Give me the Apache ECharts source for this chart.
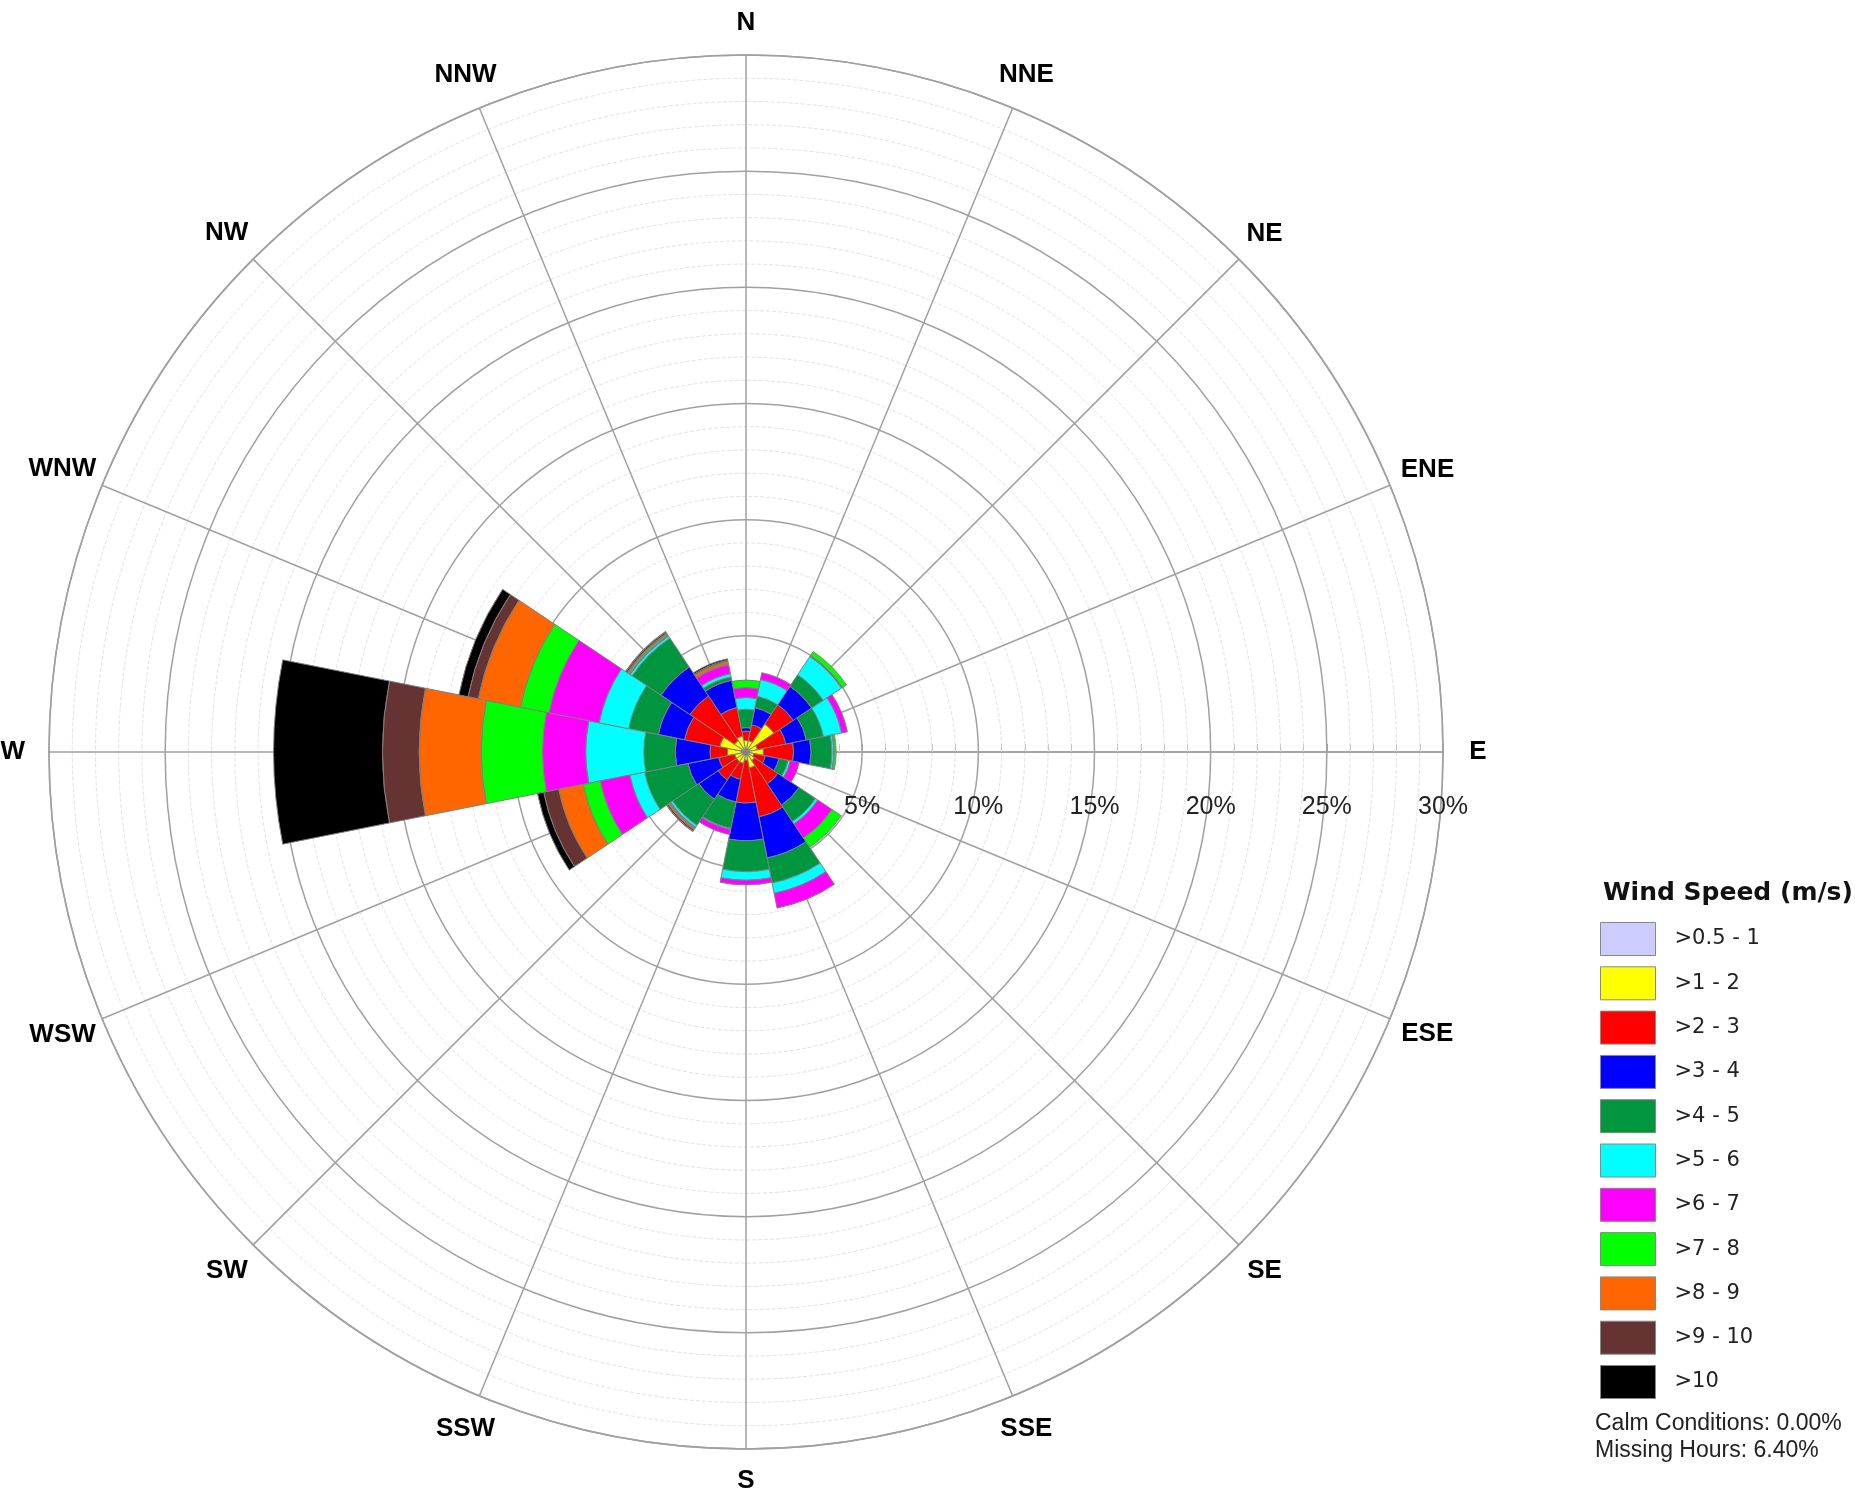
<!DOCTYPE html>
<html>
<head>
<meta charset="utf-8">
<script src="https://cdn.jsdelivr.net/npm/echarts@6/dist/echarts.min.js"></script>
<style>
html,body{margin:0;padding:0;background:#fff;}
#chart{width:1860px;height:1493px;}
</style>
</head>
<body>
<div id="chart"></div>
<script>
// ---- data ----
const directions = ['N','NNE','NE','ENE','E','ESE','SE','SSE','S','SSW','SW','WSW','W','WNW','NW','NNW'];
const speedBins = ['>0.5 - 1','>1 - 2','>2 - 3','>3 - 4','>4 - 5','>5 - 6','>6 - 7','>7 - 8','>8 - 9','>9 - 10','>10'];
const radiusTicks = [0, 5, 10, 15, 20, 25, 30];
// frequency (%) per direction for each wind-speed bin (order follows `directions`)
const bin05_1  = [0.15,0.15,0.15,0.15,0.15,0.15,0.15,0.15,0.15,0.15,0.15,0.15,0.20,0.20,0.15,0.15];
const bin1_2   = [0.35,0.35,1.30,0.35,0.60,0.20,0.30,0.55,0.20,0.35,0.35,0.35,0.60,0.95,0.45,0.55];
const bin2_3   = [0.40,0.70,1.00,1.25,1.30,0.50,1.20,2.15,1.85,0.70,0.95,0.70,0.75,1.55,2.30,1.25];
const bin3_4   = [0.15,0.75,0.95,0.90,0.75,0.60,1.10,1.80,1.62,1.00,1.00,1.35,1.50,1.15,1.50,1.20];
const bin4_5   = [0.79,0.50,0.60,0.75,0.90,0.40,0.85,1.10,1.33,1.15,1.35,1.90,1.35,1.30,1.50,0.15];
const bin5_6   = [0.51,0.73,0.95,0.80,0.08,0.10,0.12,0.45,0.37,0.05,0.10,0.65,2.50,1.30,0.10,0.14];
const bin6_7   = [0.43,0.30,0.05,0.25,0.02,0.38,0.73,0.65,0.20,0.22,0.03,1.30,1.86,2.20,0.04,0.39];
const bin7_8   = [0.32,0,0.20,0,0.08,0,0.48,0,0,0,0.03,0.75,2.64,1.25,0.06,0.03];
const bin8_9   = [0,0,0,0,0,0,0,0,0,0,0.07,1.07,2.67,1.85,0.05,0.12];
const bin9_10  = [0,0,0,0,0,0,0,0,0,0,0.07,0.66,1.58,0.45,0.07,0.05];
const bin10up  = [0,0,0,0,0,0,0,0,0,0,0.02,0.27,4.68,0.40,0.02,0.06];
const binValues = [bin05_1,bin1_2,bin2_3,bin3_4,bin4_5,bin5_6,bin6_7,bin7_8,bin8_9,bin9_10,bin10up];
const binColors = ['#ccccff','#ffff00','#ff0000','#0000ff','#009640','#00ffff','#ff00ff','#00ff00','#ff6600','#663333','#000000'];

// ---- chart ----
const chart = echarts.init(document.getElementById('chart'), null, {renderer:'canvas'});
const CX = 746, CY = 752, R = 697;
const gridColor = '#a0a0a0';
const dirFont = 'bold 26px "Liberation Sans"';
const RMAX = radiusTicks[radiusTicks.length - 1];

// label radius: fixed distance outside the ring, nudged out a little for wide labels near E/W
const measureCtx = document.createElement('canvas').getContext('2d');
measureCtx.font = dirFont;
function labelRadiusFor(name, i) {
  const th = i * 22.5 * Math.PI / 180;
  const w = measureCtx.measureText(name).width;
  const px = 729 + 0.35 * (w / 2) * Math.abs(Math.sin(th));
  return px / R * RMAX;
}

const series = speedBins.map((name, i) => ({
  name: name,
  type: 'bar',
  coordinateSystem: 'polar',
  polarIndex: 1,
  stack: 'wind',
  barCategoryGap: '0%',
  data: binValues[i].map(v => v > 0 ? v : '-'),
  itemStyle: { color: binColors[i], borderColor: '#808080', borderWidth: 1 },
  emphasis: { disabled: true },
  silent: true,
  animation: false
}));

// compass labels placed through the polar scales (angle measured CCW from east)
series.push({
  name: 'dirLabels',
  type: 'scatter',
  coordinateSystem: 'polar',
  polarIndex: 0,
  clip: false,
  silent: true,
  symbolSize: 0,
  itemStyle: { opacity: 1 },
  data: directions.map((d, i) => ({ name: d, value: [labelRadiusFor(d, i), ((90 - i * 22.5) + 360) % 360] })),
  label: { show: true, position: 'inside', formatter: p => p.name,
    fontFamily: 'Liberation Sans', fontWeight: 'bold', fontSize: 26, color: '#000' },
  animation: false
});

chart.setOption({
  backgroundColor: '#ffffff',
  animation: false,
  title: [
    { text: 'Wind Speed (m/s)', left: 1598, top: 876,
      textStyle: { fontFamily: 'DejaVu Sans', fontWeight: 'bold', fontSize: 25, color: '#111' } },
    { text: 'Calm Conditions: 0.00%\nMissing Hours: 6.40%', left: 1590, top: 1405,
      textStyle: { fontFamily: 'Liberation Sans', fontWeight: 'normal', fontSize: 23, lineHeight: 27, color: '#222' } }
  ],
  legend: {
    data: speedBins,
    orient: 'vertical',
    left: 1595, top: 917,
    itemWidth: 55, itemHeight: 33, itemGap: 10.3,
    icon: 'rect',
    selectedMode: false,
    itemStyle: { borderColor: '#888', borderWidth: 1 },
    textStyle: { fontFamily: 'DejaVu Sans', fontSize: 21, color: '#222', padding: [0,0,0,14] }
  },
  polar: [
    { center: [CX, CY], radius: R },
    { center: [CX, CY], radius: R }
  ],
  angleAxis: [
    { polarIndex: 0, type: 'value', min: 0, max: 360, interval: 22.5,
      startAngle: 0, clockwise: false, z: 0,
      axisLine: { show: true, lineStyle: { color: gridColor, width: 1.5 } },
      axisTick: { show: false },
      axisLabel: { show: false },
      splitLine: { show: true, lineStyle: { color: gridColor, width: 1.5 } }
    },
    { polarIndex: 1, type: 'category', data: directions, startAngle: 101.25, clockwise: true,
      axisLine: { show: false }, axisTick: { show: false }, axisLabel: { show: false }, splitLine: { show: false } }
  ],
  radiusAxis: [
    { polarIndex: 0, type: 'value', min: radiusTicks[0], max: RMAX, interval: 5, z: 0,
      axisLine: { show: true, lineStyle: { color: gridColor, width: 1.5 } },
      axisTick: { show: true, inside: true, length: 8, lineStyle: { color: gridColor } },
      minorTick: { show: true, splitNumber: 5, length: 8, lineStyle: { color: '#c8c8c8' } },
      axisLabel: { show: true, margin: -43, verticalAlign: 'top', align: 'center',
        formatter: v => (v === 0 ? '' : v + '%'),
        fontFamily: 'Liberation Sans', fontSize: 25, color: '#222' },
      splitLine: { show: true, lineStyle: { color: gridColor, width: 1.5 } },
      minorSplitLine: { show: true, lineStyle: { color: '#e2e2e2', width: 1, type: 'dashed' } }
    },
    { polarIndex: 1, type: 'value', min: 0, max: RMAX,
      axisLine: { show: false }, axisTick: { show: false }, axisLabel: { show: false }, splitLine: { show: false } }
  ],
  series: series
});
</script>
</body>
</html>
